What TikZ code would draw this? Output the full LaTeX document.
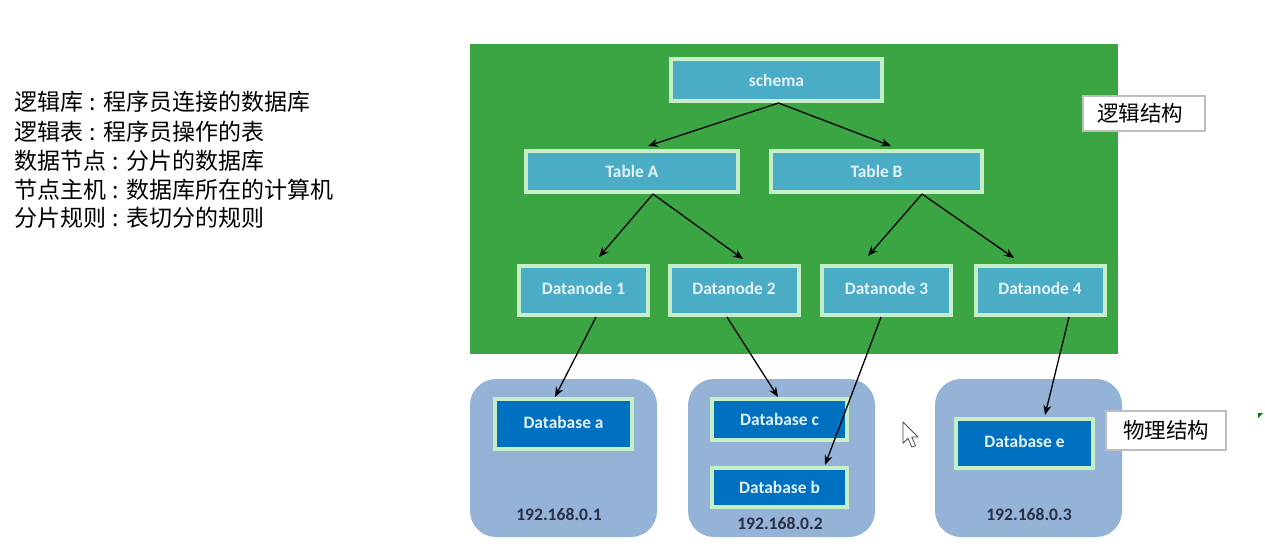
\documentclass[tikz,border=0pt]{standalone}
\usepackage{fontspec}
\setmainfont{Carlito}
\newfontfamily\cjk{Noto Sans CJK SC}
\usetikzlibrary{arrows.meta}
\definecolor{logicgreen}{RGB}{59,165,68}
\definecolor{tblue}{RGB}{75,172,198}
\definecolor{edgegreen}{RGB}{198,239,200}
\definecolor{hostblue}{RGB}{149,179,215}
\definecolor{dbblue}{RGB}{0,112,192}
\definecolor{tagframe}{RGB}{190,190,190}
\definecolor{iptext}{RGB}{42,47,69}
\definecolor{boxtext}{RGB}{228,242,246}
% glossary colon, set in a fixed-width slot
\newcommand{\gcolon}{\makebox[20pt][c]{:}}
\tikzset{
  lbox/.style={draw=edgegreen, line width=4pt, fill=tblue, inner sep=0pt,
    text=boxtext, font=\fontsize{17.4}{20}\selectfont\bfseries},
  dbbox/.style={lbox, fill=dbblue},
  host/.style={fill=hostblue, rounded corners=26pt, inner sep=0pt},
  iplabel/.style={text=iptext, font=\fontsize{17.6}{20}\selectfont\bfseries},
  tag/.style={draw=tagframe, line width=1.2pt, fill=white, inner sep=0pt,
    font=\cjk\fontsize{21.5}{23}\selectfont},
  link/.style={line width=1.3pt, -{Stealth[length=10pt,width=8pt]}},
  note/.style={anchor=west, inner sep=0pt, font=\cjk\fontsize{23}{25}\selectfont}
}
\begin{document}
\begin{tikzpicture}[x=1pt,y=-1pt]
\useasboundingbox[fill=white] (0,0) rectangle (1265,555);

% glossary on the left
\node[note] (n1) at (14,102) {逻辑库\gcolon 程序员连接的数据库};
\node[note] (n2) at (14,132) {逻辑表\gcolon 程序员操作的表};
\node[note] (n3) at (14,161) {数据节点\gcolon 分片的数据库};
\node[note] (n4) at (14,190) {节点主机\gcolon 数据库所在的计算机};
\node[note] (n5) at (14,218) {分片规则\gcolon 表切分的规则};

% logical layer
\fill[logicgreen] (470,44) rectangle (1118,354);
\node[lbox, minimum width=211pt, minimum height=42pt] (schema) at (776.5,80) {schema};
\node[lbox, minimum width=212pt, minimum height=41pt] (tA) at (632,171.5) {Table A};
\node[lbox, minimum width=211pt, minimum height=41pt] (tB) at (876.5,171.5) {Table B};
\node[lbox, minimum width=129pt, minimum height=49pt] (d1) at (583.5,290.5) {\raisebox{4pt}{Datanode 1}};
\node[lbox, minimum width=129pt, minimum height=49pt] (d2) at (734,290.5) {\raisebox{4pt}{Datanode 2}};
\node[lbox, minimum width=129pt, minimum height=49pt] (d3) at (886.5,290.5) {\raisebox{4pt}{Datanode 3}};
\node[lbox, minimum width=129pt, minimum height=49pt] (d4) at (1040,290.5) {\raisebox{4pt}{Datanode 4}};

% physical hosts
\node[host, minimum width=187pt, minimum height=158pt] (h1) at (563.5,458) {};
\node[host, minimum width=187pt, minimum height=158pt] (h2) at (781.5,458) {};
\node[host, minimum width=187pt, minimum height=158pt] (h3) at (1028.5,458) {};
\node[iplabel] (ip1) at (559,514) {192.168.0.1};
\node[iplabel] (ip2) at (780,523) {192.168.0.2};
\node[iplabel] (ip3) at (1029,514) {192.168.0.3};

\node[dbbox, minimum width=137pt, minimum height=50pt] (dba) at (563.5,424) {\raisebox{4pt}{Database a}};
\node[dbbox, minimum width=135pt, minimum height=41pt] (dbc) at (779.5,419.5) {Database c};
\node[dbbox, minimum width=135pt, minimum height=39pt] (dbb) at (779.5,487.5) {Database b};
\node[dbbox, minimum width=137pt, minimum height=49pt] (dbe) at (1024.5,443.5) {\raisebox{4pt}{Database e}};

% side tags
\node[tag, minimum width=122pt, minimum height=35pt] (tagL) at (1144,113.5) {\hspace*{-8pt}逻辑结构};
\node[tag, minimum width=120pt, minimum height=39pt] (tagP) at (1166,430.5) {物理结构};

% connectors
\draw[link] ([xshift=2pt]schema.south) -- ([xshift=16pt,yshift=3pt]tA.north);
\draw[link] ([xshift=2pt]schema.south) -- ([xshift=14.5pt,yshift=3pt]tB.north);
\draw[link] ([xshift=21pt]tA.south) -- ([xshift=15.5pt,yshift=7pt]d1.north);
\draw[link] ([xshift=21pt]tA.south) -- ([xshift=9pt,yshift=5pt]d2.north);
\draw[link] ([xshift=45.5pt]tB.south) -- ([xshift=-18.5pt,yshift=8pt]d3.north);
\draw[link] ([xshift=45.5pt]tB.south) -- ([xshift=-26pt,yshift=6pt]d4.north);
\draw[link] ([xshift=12.5pt]d1.south) -- ([xshift=-8.5pt]dba.north);
\draw[link] ([xshift=-7pt]d2.south) -- ([xshift=-1.5pt]dbc.north);
\draw[link] ([xshift=-5.5pt]d3.south) -- ([xshift=45.5pt,yshift=1pt]dbb.north);
\draw[link] ([xshift=29pt]d4.south) -- ([xshift=20.5pt,yshift=2pt]dbe.north);

% mouse pointer
\begin{scope}[shift={(903,422)}, scale=1.25]
  \draw[fill=white, draw=black!70, line width=0.8pt, line join=round]
    (0,0) -- (0,17) -- (4,13) -- (7,20) -- (10,19) -- (7,12) -- (12,12) -- cycle;
\end{scope}

% small corner mark
\fill[green!50!black] (1258,413) -- (1263,413) -- (1258,418) -- cycle;
\end{tikzpicture}
\end{document}
